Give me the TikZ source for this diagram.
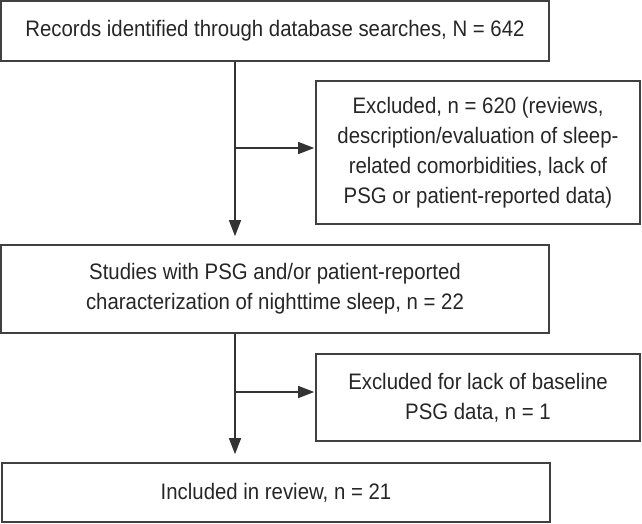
\documentclass[tikz,border=0pt]{standalone}
\usepackage{fontspec}
\setmainfont{Liberation Sans}[FakeStretch=0.91]
\usetikzlibrary{arrows.meta}
\begin{document}
\begin{tikzpicture}[x=1pt,y=-1pt,
  box/.style={draw=black!75, line width=1.6pt, rectangle, inner sep=0pt, align=center,
    font=\fontsize{22.4}{30}\selectfont, text=black!85},
  conn/.style={draw=black!80, line width=1.3pt},
  arr/.style={conn, -{Triangle[length=16pt,width=12pt]}}]
\useasboundingbox (0,0) rectangle (642,523);
\node[box, minimum width=548pt, minimum height=60pt] (rec) at (275,31)
  {Records identified through database searches, N = 642};
\node[box, minimum width=324pt, minimum height=143pt] (exa) at (478,152.5)
  {Excluded, n = 620 (reviews,\\ description/evaluation of sleep-\\ related comorbidities, lack of\\ PSG or patient-reported data)};
\node[box, minimum width=548pt, minimum height=88pt] (stu) at (275,289)
  {Studies with PSG and/or patient-reported\\ characterization of nighttime sleep, n = 22};
\node[box, minimum width=324pt, minimum height=87pt] (exb) at (478,397.5)
  {Excluded for lack of baseline\\ PSG data, n = 1};
\node[box, minimum width=548pt, minimum height=59pt] (inc) at (276,492.5)
  {Included in review, n = 21};
\coordinate (spine) at (235,0);
\coordinate (ja) at (235,148);
\coordinate (jb) at (235,392);
\draw[arr] (rec.south -| spine) -- ([yshift=8pt]stu.north -| spine);
\draw[arr] (ja) -- ([xshift=-1pt]exa.west |- ja);
\draw[arr] (stu.south -| spine) -- ([yshift=8pt]inc.north -| spine);
\draw[arr] (jb) -- ([xshift=-1pt]exb.west |- jb);
\end{tikzpicture}
\end{document}
